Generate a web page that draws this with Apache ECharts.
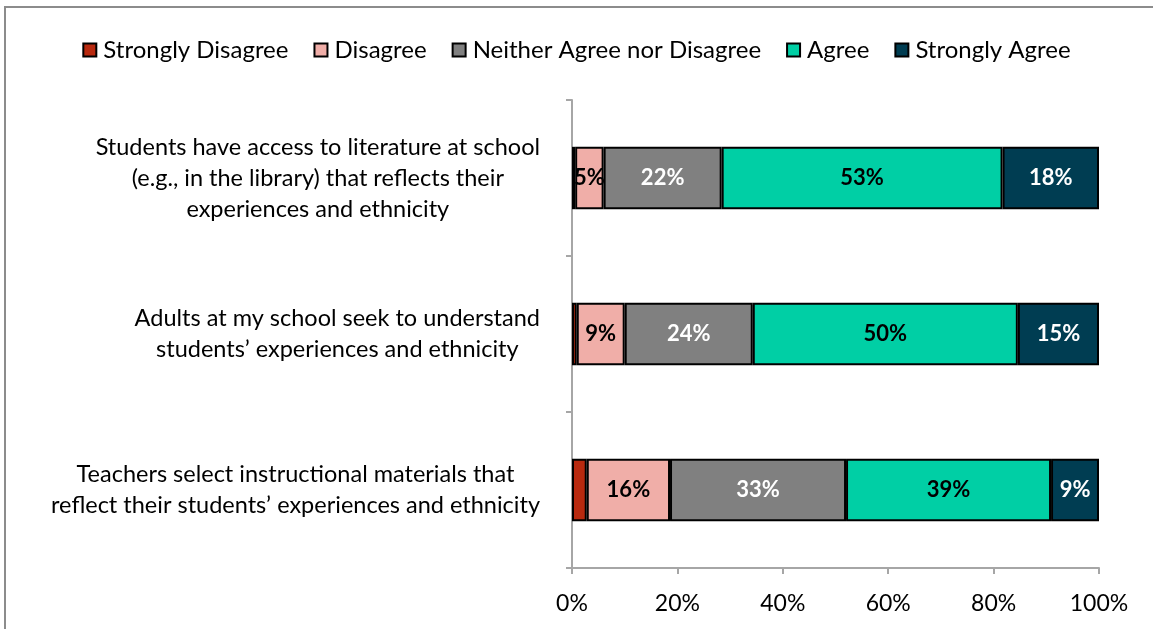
<!DOCTYPE html>
<html>
<head>
<meta charset="utf-8">
<style>
  html, body { margin: 0; padding: 0; background: #fff; }
  #chart { width: 1153px; height: 629px; }
</style>
<script src="https://cdn.jsdelivr.net/npm/echarts@6/dist/echarts.min.js"></script>
</head>
<body>
<div id="chart"></div>
<script>
// Survey statements (top to bottom)
const statements = [
  'Students have access to literature at school\n(e.g., in the library) that reflects their\nexperiences and ethnicity',
  'Adults at my school seek to understand\nstudents\u2019 experiences and ethnicity',
  'Teachers select instructional materials that\nreflect their students\u2019 experiences and ethnicity'
];

// Response shares, percent of respondents
const stronglyDisagree = [0.6, 0.9, 2.8];
const disagree         = [5.4, 9.1, 15.8];
const neither          = [22.4, 24.3, 33.4];
const agree            = [53.3, 50.3, 38.9];
const stronglyAgree    = [18.3, 15.4, 9.1];

const xTicks = [0, 20, 40, 60, 80, 100];

const FONT = 'Lato';

function makeSeries(name, data, color, labelColor, showLabel) {
  return {
    name: name,
    type: 'bar',
    stack: 'total',
    barWidth: '40%',
    data: data,
    itemStyle: { color: color, borderColor: '#000', borderWidth: 2 },
    label: {
      show: showLabel,
      position: 'inside',
      color: labelColor,
      fontFamily: FONT,
      fontWeight: 'bold',
      fontSize: 22,
      formatter: p => Math.round(p.value) + '%'
    },
    emphasis: { disabled: true }
  };
}

const chart = echarts.init(document.getElementById('chart'), null, { renderer: 'canvas' });

chart.setOption({
  animation: false,
  textStyle: { fontFamily: FONT },
  graphic: [{
    type: 'rect',
    shape: { x: 5, y: 7, width: 1300, height: 800 },
    style: { fill: 'none', stroke: '#8c8c8c', lineWidth: 2 },
    silent: true
  }],
  legend: {
    top: 33,
    left: 'center',
    icon: 'rect',
    itemWidth: 13,
    itemHeight: 13,
    itemGap: 25,
    itemStyle: { borderColor: '#000', borderWidth: 2 },
    textStyle: { fontFamily: FONT, fontSize: 24, color: '#000', padding: [0, 0, 0, 2] },
    data: ['Strongly Disagree', 'Disagree', 'Neither Agree nor Disagree', 'Agree', 'Strongly Agree']
  },
  grid: { left: 572, right: 54, top: 100, bottom: 61, containLabel: false },
  xAxis: {
    type: 'value',
    min: 0,
    max: 100,
    interval: 20,
    axisLine: { show: true, lineStyle: { color: '#a6a6a6', width: 2 } },
    axisTick: { show: true, length: 6, lineStyle: { color: '#a6a6a6', width: 2 } },
    splitLine: { show: false },
    axisLabel: {
      margin: 24,
      fontFamily: FONT,
      fontSize: 23,
      color: '#000',
      formatter: v => (xTicks.indexOf(v) >= 0 ? v + '%' : '')
    }
  },
  yAxis: {
    type: 'category',
    inverse: true,
    data: statements,
    axisLine: { show: true, lineStyle: { color: '#a6a6a6', width: 2 } },
    axisTick: { show: true, length: 6, lineStyle: { color: '#a6a6a6', width: 2 } },
    axisLabel: {
      margin: 32,
      align: 'right',
      fontFamily: FONT,
      fontSize: 23.5,
      lineHeight: 31,
      color: '#000',
      formatter: v => v.split('\n').map(s => '{c|' + s + '}').join('\n'),
      rich: { c: { align: 'center', fontFamily: FONT, fontSize: 23.5, lineHeight: 31, color: '#000' } }
    }
  },
  series: [
    makeSeries('Strongly Disagree', stronglyDisagree, '#b8290f', '#000', false),
    makeSeries('Disagree', disagree, '#f0aea8', '#000', true),
    makeSeries('Neither Agree nor Disagree', neither, '#808080', '#fff', true),
    makeSeries('Agree', agree, '#00cfa5', '#000', true),
    makeSeries('Strongly Agree', stronglyAgree, '#003d52', '#fff', true)
  ]
});
</script>
</body>
</html>
